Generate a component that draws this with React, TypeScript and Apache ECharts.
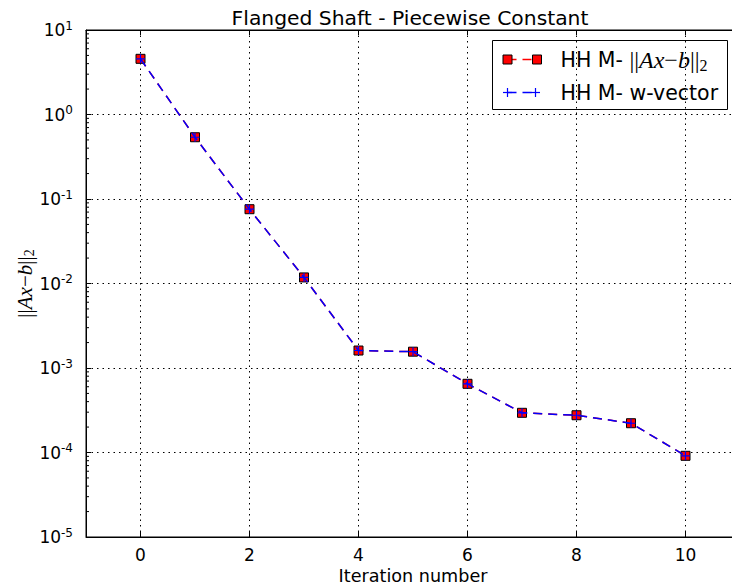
import React, { useEffect, useRef } from "react";
import * as echarts from "echarts";

const iterations = [0, 1, 2, 3, 4, 5, 6, 7, 8, 9, 10];
const residualNorm = [4.56, 0.538, 0.0757, 0.0118, 0.00161, 0.00156, 0.00065, 0.000295, 0.000276, 0.000222, 0.0000914];
const wVectorNorm = [4.56, 0.538, 0.0757, 0.0118, 0.00161, 0.00156, 0.00065, 0.000295, 0.000276, 0.000222, 0.0000914];
const xTickValues = [0, 2, 4, 6, 8, 10];
const yDecadeExponents = [-5, -4, -3, -2, -1, 0];
const minorMultipliers = [2, 3, 4, 5, 6, 7, 8, 9];

const titleText = "Flanged Shaft - Piecewise Constant";
const xAxisTitle = "Iteration number";
const legendNames = ["HH M- ||Ax−b||2", "HH M- w-vector"];

const SANS = "DejaVu Sans";
const MATH = "Liberation Serif";

export default function App() {
  const ref = useRef<HTMLDivElement>(null);
  useEffect(() => {
    if (!ref.current) return;
    const chart = echarts.init(ref.current, undefined, { renderer: "svg" });

    const minorData: number[][] = [];
    yDecadeExponents.forEach((e) => {
      minorMultipliers.forEach((m) => minorData.push([-1, m * Math.pow(10, e)]));
    });

    const mathRich = {
      n: { fontFamily: MATH, fontSize: 21, color: "#000" },
      i: { fontFamily: MATH, fontStyle: "italic", fontSize: 21, color: "#000" },
      s: { fontFamily: MATH, fontSize: 14, color: "#000", verticalAlign: "bottom", padding: [9, 0, 0, 0] },
    };
    const legendRich = {
      t: { fontFamily: SANS, fontSize: 20.5, fill: "#000" },
      n: { fontFamily: MATH, fontSize: 24, fill: "#000" },
      i: { fontFamily: MATH, fontStyle: "italic", fontSize: 24, fill: "#000" },
      s: { fontFamily: MATH, fontSize: 16, fill: "#000", verticalAlign: "bottom", padding: [11, 0, 0, 0] },
    };

    const option: any = {
      animation: false,
      backgroundColor: "#fff",
      title: {
        text: titleText,
        left: 405,
        top: 3,
        textAlign: "center",
        textStyle: { fontFamily: SANS, fontSize: 20.3, fontWeight: "normal", color: "#000" },
      },
      grid: {
        left: 86,
        top: 30,
        width: 654,
        height: 507,
        show: true,
        borderColor: "#000",
        borderWidth: 1,
        backgroundColor: "transparent",
        outerBoundsMode: "none",
        containLabel: false,
      },
      xAxis: [
        {
          type: "value",
          min: -1,
          max: 11,
          name: xAxisTitle,
          nameLocation: "middle",
          nameGap: 30,
          nameMoveOverlap: false,
          nameTextStyle: { fontFamily: SANS, fontSize: 17.6, color: "#000" },
          axisLine: { onZero: false, lineStyle: { color: "#000", width: 1 } },
          axisTick: { inside: true, length: 5, customValues: xTickValues, lineStyle: { color: "#000" } },
          axisLabel: {
            customValues: xTickValues,
            fontFamily: SANS,
            fontSize: 17,
            color: "#000",
            margin: 9,
          },
          splitLine: { show: true, lineStyle: { color: "#000", type: [1.5, 4], width: 1 } },
        },
        {
          type: "value",
          position: "top",
          min: -1,
          max: 11,
          axisLine: { show: true, onZero: false, lineStyle: { color: "#000", width: 1 } },
          axisTick: { inside: true, length: 5, customValues: xTickValues, lineStyle: { color: "#000" } },
          axisLabel: { show: false },
          splitLine: { show: false },
        },
      ],
      yAxis: {
        type: "log",
        logBase: 10,
        min: 1e-5,
        max: 10,
        splitNumber: 6,
        name: "{n|||}{i|Ax}{n|−}{i|b}{n|||}{s|2}",
        nameLocation: "middle",
        nameGap: 50,
        nameMoveOverlap: false,
        nameRotate: 90,
        nameTextStyle: { rich: mathRich },
        axisLine: { onZero: false, lineStyle: { color: "#000", width: 1 } },
        axisTick: { inside: true, length: 5, lineStyle: { color: "#000" } },
        axisLabel: {
          margin: 13,
          formatter: (v: number) => {
            const e = Math.round(Math.log10(v));
            return "{b|10}{e|" + e + "}";
          },
          rich: {
            b: { fontFamily: SANS, fontSize: 17, color: "#000" },
            e: { fontFamily: SANS, fontSize: 12, color: "#000", verticalAlign: "top", padding: [0, 0, 9, 0] },
          },
        },
        splitLine: { show: true, lineStyle: { color: "#000", type: [1.5, 4], width: 1 } },
      },
      series: [
        {
          type: "custom",
          silent: true,
          data: minorData,
          encode: { x: 0, y: 1 },
          renderItem: (params: any, api: any) => {
            const p = api.coord([api.value(0), api.value(1)]);
            return {
              type: "line",
              shape: { x1: p[0], y1: p[1], x2: p[0] + 3, y2: p[1] },
              style: { stroke: "#000", lineWidth: 1 },
            };
          },
          z: 1,
        },
        {
          name: legendNames[0],
          type: "line",
          data: iterations.map((x, i) => [x, residualNorm[i]]),
          symbol: "rect",
          symbolSize: 9,
          itemStyle: { color: "#ff0000", borderColor: "#000", borderWidth: 1 },
          lineStyle: { color: "#ff0000", width: 1.5, type: [9, 6] },
          z: 3,
        },
        {
          name: legendNames[1],
          type: "line",
          data: iterations.map((x, i) => [x, wVectorNorm[i]]),
          symbol: "path://M0,5L10,5M5,0L5,10",
          symbolSize: 9,
          itemStyle: { color: "none", borderColor: "#0000ff", borderWidth: 1.2 },
          lineStyle: { color: "#0000ff", width: 1.5, type: [9, 6] },
          z: 4,
        },
      ],
      graphic: [
        {
          type: "group",
          left: 492,
          top: 40,
          z: 100,
          children: [
            { type: "rect", shape: { x: 0, y: 0, width: 235, height: 69 }, style: { fill: "#fff", stroke: "#000", lineWidth: 1 } },
            { type: "line", shape: { x1: 15, y1: 19, x2: 44.5, y2: 19 }, style: { stroke: "#ff0000", lineWidth: 1.5, lineDash: [9, 6] } },
            { type: "rect", shape: { x: 10.5, y: 14.5, width: 9, height: 9 }, style: { fill: "#ff0000", stroke: "#000", lineWidth: 1 } },
            { type: "rect", shape: { x: 40, y: 14.5, width: 9, height: 9 }, style: { fill: "#ff0000", stroke: "#000", lineWidth: 1 } },
            {
              type: "text",
              x: 68,
              y: 19,
              style: {
                text: "{t|HH M- }{n|||}{i|Ax}{n|−}{i|b}{n|||}{s|2}",
                rich: legendRich,
                verticalAlign: "middle",
              },
            },
            { type: "line", shape: { x1: 15, y1: 52, x2: 43, y2: 52 }, style: { stroke: "#0000ff", lineWidth: 1.5, lineDash: [9, 6] } },
            { type: "line", shape: { x1: 10.5, y1: 52, x2: 19.5, y2: 52 }, style: { stroke: "#0000ff", lineWidth: 1.2 } },
            { type: "line", shape: { x1: 15, y1: 47.5, x2: 15, y2: 56.5 }, style: { stroke: "#0000ff", lineWidth: 1.2 } },
            { type: "line", shape: { x1: 38.5, y1: 52, x2: 47.5, y2: 52 }, style: { stroke: "#0000ff", lineWidth: 1.2 } },
            { type: "line", shape: { x1: 43, y1: 47.5, x2: 43, y2: 56.5 }, style: { stroke: "#0000ff", lineWidth: 1.2 } },
            {
              type: "text",
              x: 68,
              y: 52,
              style: { text: legendNames[1], fontFamily: SANS, fontSize: 20.5, fill: "#000", verticalAlign: "middle" },
            },
          ],
        },
      ],
    };
    chart.setOption(option);
    return () => chart.dispose();
  }, []);
  return (
    <div
      ref={ref}
      style={{ position: "fixed", left: 0, top: 0, width: 732, height: 588, overflow: "hidden" }}
    />
  );
}
